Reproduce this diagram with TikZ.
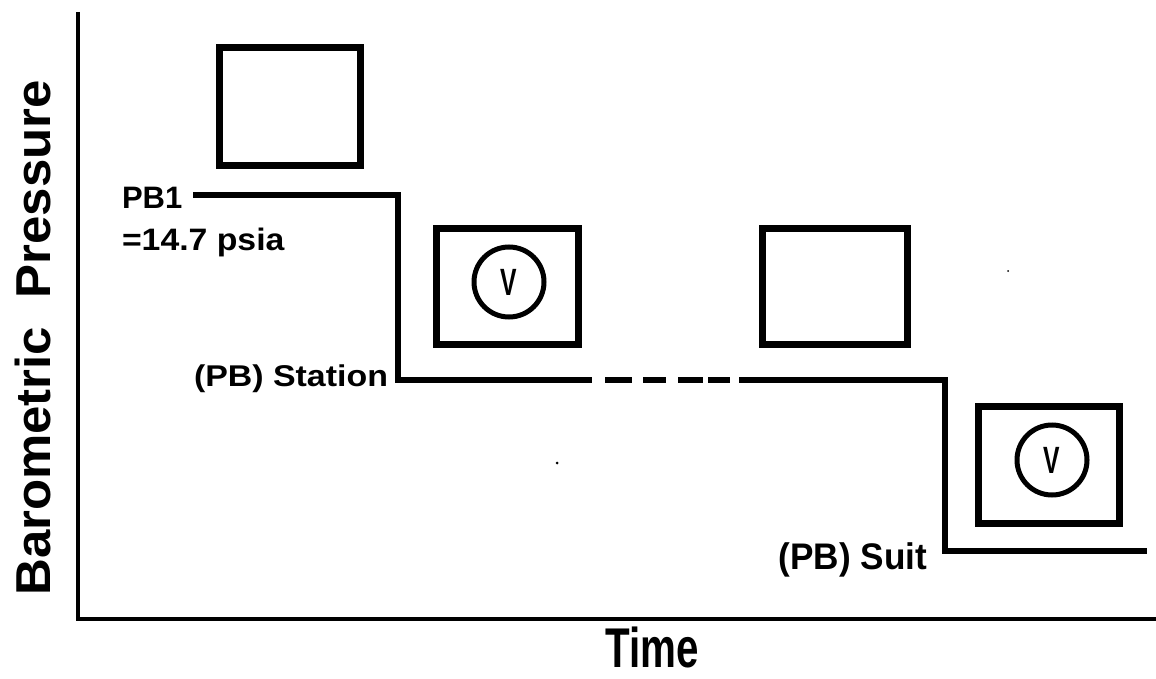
\documentclass[tikz,border=0pt]{standalone}
\usepackage{fontspec}
\setmainfont{Liberation Sans}
\usepackage{graphicx}
\begin{document}
\begin{tikzpicture}[x=1pt,y=-1pt,
  axis/.style={line width=3.5pt},
  stepline/.style={line width=6pt},
  chamber/.style={draw,line width=7pt,inner sep=0pt,outer sep=0pt},
  valve/.style={draw,circle,line width=5pt,inner sep=0pt,minimum size=70pt,
    font=\fontsize{38}{42}\selectfont\bfseries},
  lbl/.style={inner sep=0pt,outer sep=0pt,font=\bfseries}
]
\useasboundingbox (0,0) rectangle (1156,679);
% axes
\coordinate (ytop) at (78,12);
\coordinate (orig) at (78,619);
\coordinate (xend) at (1156,619);
\draw[axis] (ytop) -- (orig) -- (xend);
% chambers
\node[chamber,minimum width=141pt,minimum height=118pt] (c1) at (290,106.5) {};
\node[chamber,minimum width=142pt,minimum height=116pt] (c2) at (507.5,286.5) {};
\node[chamber,minimum width=145pt,minimum height=116pt] (c3) at (835,286.5) {};
\node[chamber,minimum width=141pt,minimum height=117pt] (c4) at (1049,465) {};
\node[valve] (v1) at (509,282) {\scalebox{0.65}[1]{V}};
\node[valve] (v2) at (1052,460) {\scalebox{0.65}[1]{V}};
% pressure trace
\coordinate (p0) at (193,195);
\coordinate (p1) at (398,195);
\coordinate (p2) at (398,380);
\coordinate (p3) at (592,380);
\coordinate (p4) at (739,380);
\coordinate (p5) at (945,380);
\coordinate (p6) at (945,551);
\coordinate (p7) at (1147,551);
\draw[stepline] (p0) -- (p1) -- (p2) -- (p3);
\draw[stepline,dash pattern={on 0pt off 13pt on 27pt off 11pt on 23pt off 12pt on 25pt off 5pt on 22pt off 20pt}] (p3) -- (p4);
\draw[stepline] (p4) -- (p5) -- (p6) -- (p7);
% labels
\node[lbl,anchor=base west,font=\fontsize{31}{34}\selectfont\bfseries] (pb1) at (122,208) {PB1};
\node[lbl,anchor=base west,font=\fontsize{31}{34}\selectfont\bfseries] (psia) at (122,250) {\scalebox{1.09}[1]{=14.7 psia}};
\node[lbl,anchor=base east,font=\fontsize{30}{34}\selectfont\bfseries] (stn) at (388,386) {\scalebox{1.13}[1]{(PB) Station}};
\node[lbl,anchor=base east,font=\fontsize{37}{42}\selectfont\bfseries] (suit) at (927,569) {\scalebox{0.95}[1]{(PB) Suit}};
\node[lbl,anchor=base,font=\fontsize{56}{60}\selectfont\bfseries] (time) at (652,667) {\scalebox{0.72}[1]{Time}};
\node[lbl,anchor=base,rotate=90,font=\fontsize{49}{54}\selectfont\bfseries] (ylab) at (50,338) {\scalebox{1.04}[1]{Barometric\ \ Pressure}};
% specks
\fill (557,463) circle (1.5pt);
\fill (1008,271) circle (1pt);
\end{tikzpicture}
\end{document}
